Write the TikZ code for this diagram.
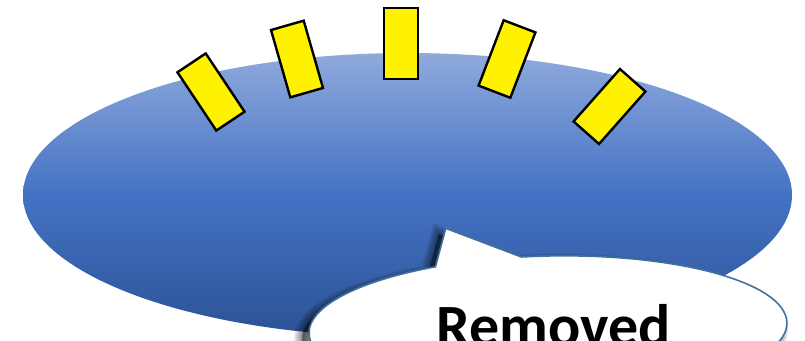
\documentclass[tikz,border=0pt]{standalone}
\usepackage{fontspec}
\setmainfont{Carlito}
\usetikzlibrary{shapes.geometric}
\definecolor{bluetop}{RGB}{143,170,220}
\definecolor{bluemid}{RGB}{68,114,196}
\definecolor{bluebot}{RGB}{44,82,148}
\definecolor{calloutline}{RGB}{65,113,156}
\tikzset{
  blob/.style={ellipse, inner sep=0pt, minimum width=769pt, minimum height=284pt,
    top color=bluetop, bottom color=bluebot, middle color=bluemid, draw=none},
  yrect/.style={rectangle, inner sep=0pt, fill=yellow, draw=black, line width=2.4pt,
    minimum width=34pt, minimum height=70pt},
  calloutshape/.style={fill=white, draw=calloutline, line width=1.6pt, line join=miter},
  shadowlayer/.style={fill=black, draw=black, fill opacity=0.11, draw opacity=0.11},
  lbltext/.style={font=\fontsize{60}{61}\selectfont\bfseries, inner sep=0pt, anchor=base}
}
\begin{document}
\begin{tikzpicture}[x=1pt,y=-1pt]
\useasboundingbox (0,0) rectangle (805,340);
\clip (0,0) rectangle (805,340);
\fill[white] (0,0) rectangle (805,340);
\node[blob] (blob) at (407.5,195) {};
\node[yrect, rotate=33.7] (r1) at (211,92) {};
\node[yrect, rotate=16] (r2) at (297,59) {};
\node[yrect, minimum height=71pt] (r3) at (401,43.5) {};
\node[yrect, rotate=-21] (r4) at (507,59) {};
\node[yrect, rotate=-41.5] (r5) at (609.5,106.5) {};
\begin{scope}[shift={(548,328)}, rotate=1.3]
  \coordinate (tip) at (-100,-102);
  \begin{scope}[shift={(-7,6)}]
    \foreach \w in {16,12,8,4,1}{
      \path[shadowlayer, line width=\w pt] (-25.0,-71.6)
        arc[start angle=-96, end angle=242.3, x radius=239, y radius=72]
        -- (-100,-102) -- cycle;
    }
  \end{scope}
  \draw[calloutshape] (-25.0,-71.6)
    arc[start angle=-96, end angle=242.3, x radius=239, y radius=72]
    -- (tip) -- cycle;
\end{scope}
\node[lbltext] (lbl) at (553.5,346) {Removed};
\end{tikzpicture}
\end{document}
